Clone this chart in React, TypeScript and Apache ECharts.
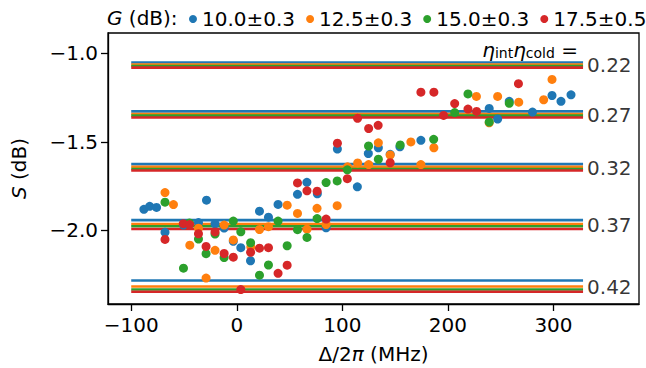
import React, { useEffect, useRef } from "react";
import * as echarts from "echarts";

const FONT = "DejaVu Sans";
const COLORS = ["#1f77b4", "#ff7f0e", "#2ca02c", "#d62728"];
const seriesNames = ["10.0±0.3", "12.5±0.3", "15.0±0.3", "17.5±0.5"];

const blueX = [-88, -82.5, -76, -68, -50.5, -36.3, -28.7, -20.6, -12, -3.3, 3.8, 13, 21.5, 30, 39.1, 57.5, 66.4, 76.3, 84.6, 95.3, 114.2, 124.6, 134.1, 145.3, 154.5, 174.4, 239.1, 247.1, 258.1, 280.1, 298.6, 307.1, 316.6];
const blueY = [-1.883, -1.866, -1.872, -2.013, -1.972, -1.958, -1.831, -1.965, -1.989, -2.064, -2.1, -2.174, -1.893, -1.927, -1.855, -1.798, -1.73, -1.795, -1.987, -1.541, -1.755, -1.567, -1.534, -1.571, -1.529, -1.492, -1.311, -1.371, -1.271, -1.332, -1.238, -1.271, -1.234];

const orangeX = [-68, -60, -44.5, -36.3, -29.1, -20.6, -12, -3.3, 13.3, 21.5, 30, 47.7, 57.5, 66.5, 76, 84.6, 95.1, 104.9, 114.5, 124.9, 134.1, 145.3, 164.9, 174.4, 186.7, 227, 239.1, 247.1, 267.1, 290.7, 298.6];
const orangeY = [-1.788, -1.856, -2.086, -1.99, -2.272, -2.115, -1.972, -2.056, -2.096, -1.997, -1.981, -1.859, -1.906, -1.995, -1.877, -1.969, -1.862, -1.642, -1.62, -1.629, -1.506, -1.575, -1.501, -1.629, -1.534, -1.243, -1.393, -1.243, -1.276, -1.262, -1.147];

const greenX = [-68, -50.5, -44.8, -36.3, -29.1, -20.6, -12, -3.3, 3.8, 13.1, 21.5, 30, 39.1, 47.7, 57.5, 66.5, 76.1, 84.6, 95.1, 104.7, 124.8, 134.1, 154.8, 186.5, 206.4, 219, 239.1, 258.1];
const greenY = [-1.842, -2.216, -1.96, -2.051, -2.134, -2.023, -2.156, -1.949, -2.01, -2.072, -2.256, -2.198, -1.949, -2.089, -1.998, -2.042, -1.935, -1.731, -1.722, -1.659, -1.524, -1.599, -1.518, -1.486, -1.335, -1.229, -1.388, -1.282];

const redX = [-68, -50.7, -44.7, -36.3, -29.1, -20.6, -12, -3.3, 3.8, 13.1, 21.5, 30, 39.1, 47.7, 57.5, 66.5, 76.1, 84.6, 95.3, 104.7, 114.4, 124.9, 133.9, 145.3, 174.4, 186.7, 195.9, 206.4, 219, 227.2, 266.8];
const redY = [-2.053, -1.964, -1.969, -2.021, -2.093, -2.011, -2.133, -2.154, -2.337, -2.126, -2.103, -2.1, -2.245, -2.199, -1.733, -1.778, -1.78, -1.938, -1.508, -1.709, -1.367, -1.425, -1.407, -1.619, -1.219, -1.219, -1.351, -1.284, -1.315, -1.328, -1.171];

// model lines (one per efficiency value, per gain)
const etaLabels = ["0.22", "0.27", "0.32", "0.37", "0.42"];
const blueLevels = [-1.051, -1.328, -1.627, -1.944, -2.286];
const orangeLevels = [-1.062, -1.343, -1.642, -1.966, -2.32];
const greenLevels = [-1.071, -1.352, -1.654, -1.979, -2.337];
const redLevels = [-1.08, -1.363, -1.663, -1.994, -2.35];
const lineStart = -100;
const lineEnd = 328;

const xTicks = [-100, 0, 100, 200, 300];
const yTicks = [-2.0, -1.5, -1.0];

const minus = (s: string) => s.replace("-", "\u2212");

export default function App() {
  const ref = useRef<HTMLDivElement>(null);
  useEffect(() => {
    if (!ref.current) return;
    const chart = echarts.init(ref.current, null, { renderer: "svg" });
    const xs = [blueX, orangeX, greenX, redX];
    const ys = [blueY, orangeY, greenY, redY];
    const levels = [blueLevels, orangeLevels, greenLevels, redLevels];

    const lineSeries: any[] = [];
    levels.forEach((lv, ci) => {
      lv.forEach((v, gi) => {
        lineSeries.push({
          type: "line",
          name: "model " + seriesNames[ci] + " " + etaLabels[gi],
          data: [
            [lineStart, v],
            [lineEnd, v],
          ],
          symbol: "none",
          lineStyle: { color: COLORS[ci], width: 2.6 },
          z: 1,
          silent: true,
        });
      });
    });

    const scatterSeries = xs.map((xArr, ci) => ({
      type: "scatter",
      name: seriesNames[ci],
      data: xArr.map((x, i) => [x, ys[ci][i]]),
      symbol: "circle",
      symbolSize: 9,
      itemStyle: { color: COLORS[ci], opacity: 1 },
      z: 3,
    }));

    const labelData = etaLabels.map((lab, gi) => {
      const mean =
        (blueLevels[gi] + orangeLevels[gi] + greenLevels[gi] + redLevels[gi]) / 4;
      return { value: [lineEnd, mean], name: lab };
    });

    const labelSeries = {
      type: "scatter",
      name: "eta labels",
      data: labelData,
      symbolSize: 0,
      silent: true,
      z: 4,
      label: {
        show: true,
        position: "right",
        distance: 4,
        formatter: (p: any) => p.name,
        color: "#000",
        fontFamily: FONT,
        fontSize: 20,
      },
    };

    chart.setOption({
      animation: false,
      backgroundColor: "#fff",
      textStyle: { fontFamily: FONT },
      grid: {
        left: 108,
        right: 7,
        top: 33,
        bottom: 64,
        show: true,
        borderColor: "#000",
        borderWidth: 1.3,
        backgroundColor: "transparent",
        outerBoundsMode: "none",
        containLabel: false,
      },
      legend: {
        data: seriesNames,
        left: 189,
        top: 8,
        width: 460,
        padding: 0,
        icon: "circle",
        itemWidth: 8,
        itemHeight: 8,
        itemGap: 11,
        textStyle: { fontFamily: FONT, fontSize: 20, color: "#000", lineHeight: 22 },
      },
      graphic: [
        {
          type: "text",
          left: 107,
          top: 8,
          style: {
            text: "{i|G}{n| (dB):}",
            rich: {
              i: { fontFamily: FONT, fontSize: 20, fontStyle: "italic", fill: "#000", lineHeight: 22 },
              n: { fontFamily: FONT, fontSize: 20, fill: "#000", lineHeight: 22 },
            },
          },
        },
        {
          type: "text",
          right: 68,
          top: 40,
          style: {
            text: "{e|η}{s|int}{e|η}{s|cold}{q| =}",
            rich: {
              e: { fontFamily: FONT, fontSize: 20, fontStyle: "italic", fill: "#000", lineHeight: 22, verticalAlign: "bottom" },
              q: { fontFamily: FONT, fontSize: 20, fill: "#000", lineHeight: 22, verticalAlign: "bottom" },
              s: { fontFamily: FONT, fontSize: 14, fill: "#000", lineHeight: 10, verticalAlign: "bottom" },
            },
          },
        },
      ],
      xAxis: {
        type: "value",
        min: -122,
        max: 381,
        splitLine: { show: false },
        axisLine: { show: true, onZero: false, lineStyle: { color: "#000", width: 1.3 } },
        axisTick: {
          show: true,
          length: 7,
          customValues: xTicks,
          lineStyle: { color: "#000", width: 1.3 },
        },
        axisLabel: {
          customValues: xTicks,
          color: "#000",
          fontFamily: FONT,
          fontSize: 20,
          margin: 11,
          formatter: (v: number) => minus(String(v)),
        },
        name: "{n|Δ/2}{i|π}{n| (MHz)}",
        nameLocation: "middle",
        nameGap: 40,
        nameTextStyle: {
          rich: {
            n: { fontFamily: FONT, fontSize: 20, color: "#000" },
            i: { fontFamily: FONT, fontSize: 20, color: "#000", fontStyle: "italic" },
          },
        },
      },
      yAxis: {
        type: "value",
        min: -2.419,
        max: -0.884,
        splitLine: { show: false },
        axisLine: { show: true, onZero: false, lineStyle: { color: "#000", width: 1.3 } },
        axisTick: {
          show: true,
          length: 7,
          customValues: yTicks,
          lineStyle: { color: "#000", width: 1.3 },
        },
        axisLabel: {
          customValues: yTicks,
          color: "#000",
          fontFamily: FONT,
          fontSize: 20,
          margin: 10,
          formatter: (v: number) => minus(v.toFixed(1)),
        },
        name: "{i|S}{n| (dB)}",
        nameLocation: "middle",
        nameRotate: 90,
        nameGap: 79,
        nameTextStyle: {
          rich: {
            n: { fontFamily: FONT, fontSize: 20, color: "#000" },
            i: { fontFamily: FONT, fontSize: 20, color: "#000", fontStyle: "italic" },
          },
        },
      },
      series: [...lineSeries, ...scatterSeries, labelSeries],
    });
    return () => chart.dispose();
  }, []);
  return (
    <div
      ref={ref}
      style={{ position: "fixed", left: 0, top: 0, width: 646, height: 368 }}
    />
  );
}
